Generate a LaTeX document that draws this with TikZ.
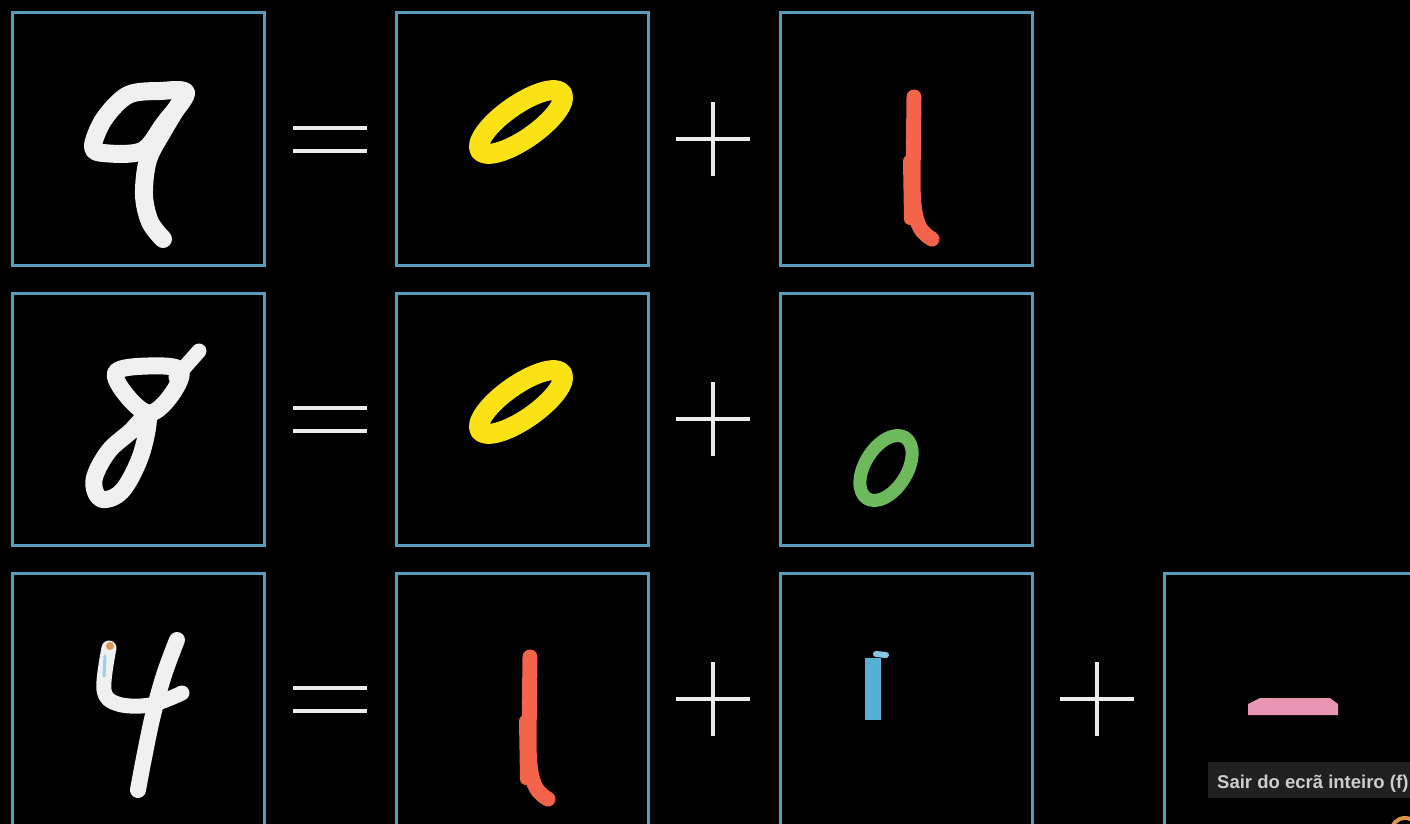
\documentclass[tikz,border=0pt]{standalone}
\usepackage{fontspec}
\newfontfamily\tipfont{Liberation Sans}
\definecolor{frameblue}{RGB}{88,156,186}
\definecolor{symwhite}{RGB}{235,235,235}
\definecolor{inkwhite}{RGB}{240,240,240}
\definecolor{inkyellow}{RGB}{250,226,20}
\definecolor{inkred}{RGB}{244,100,74}
\definecolor{inkgreen}{RGB}{108,186,92}
\definecolor{inkblue}{RGB}{85,175,215}
\definecolor{inkpink}{RGB}{232,150,180}
\definecolor{inkorange}{RGB}{225,150,80}
\definecolor{tipbg}{RGB}{32,32,32}
\definecolor{tipfg}{RGB}{205,205,205}
\begin{document}
\begin{tikzpicture}[x=1pt,y=-1pt,
  panel/.style={draw=frameblue, line width=3pt, minimum size=252pt, inner sep=0pt, fill=black},
  sym/.style={draw=symwhite, line width=4.8pt},
  ink/.style={line width=#1, line cap=round, line join=round},
  zeroyellow/.pic={
    \draw[ink=20pt, draw=inkyellow, rotate around={35:(-1,-17)}]
      (-1,-17) ellipse [x radius=50pt, y radius=17pt];
  },
  onered/.pic={
    \draw[ink=15pt, draw=inkred] (8,-42) -- (7,40) .. controls (7,78) and (11,92) .. (26,100);
    \draw[ink=12pt, draw=inkred] (3,22) -- (4,80);
  },
]
\fill[black] (0,0) rectangle (1410,824);
\useasboundingbox (0,0) rectangle (1410,824);
\clip (0,0) rectangle (1410,824);

% panels
\foreach \r/\y in {1/139,2/419,3/699}{
  \node[panel] (p\r1) at (138,\y) {};
  \node[panel] (p\r2) at (522,\y) {};
  \node[panel] (p\r3) at (906,\y) {};
}
\node[panel] (p34) at (1290,699) {};

% equals signs
\foreach \y in {139,419,699}{
  \draw[sym] (293,\y-11) -- (367,\y-11);
  \draw[sym] (293,\y+12) -- (367,\y+12);
}
% plus signs
\foreach \x/\y in {713/139,713/419,713/699,1097/699}{
  \draw[sym, line width=4.2pt] (\x-37,\y) -- (\x+37,\y) (\x,\y-37) -- (\x,\y+37);
}

% row 1: nine
\draw[ink=18pt, draw=inkwhite] plot[smooth cycle, tension=0.55]
  coordinates {(186,93) (160,91) (128,95) (104,119) (93,146) (103,153) (142,151) (164,124)};
\draw[ink=18pt, draw=inkwhite] plot[smooth, tension=0.55]
  coordinates {(186,93) (163,131) (148,160) (144,195) (150,222) (163,239)};
\pic at (522,139) {zeroyellow};
\pic at (906,139) {onered};

% row 2: eight
\draw[ink=17pt, draw=inkwhite] plot[smooth cycle, tension=0.6]
  coordinates {(116,372) (148,366) (180,370) (172,394) (150,413) (127,396)};
\draw[ink=17pt, draw=inkwhite] plot[smooth cycle, tension=0.6]
  coordinates {(148,416) (141,455) (122,491) (101,499) (94,480) (108,452) (130,432)};
\draw[ink=15pt, draw=inkwhite] (176,377) -- (199,351);
\pic at (522,419) {zeroyellow};
\draw[ink=13pt, draw=inkgreen, rotate around={58:(886,468)}]
  (886,468) ellipse [x radius=36pt, y radius=21pt];

% row 3: four
\draw[ink=15pt, draw=inkwhite] plot[smooth, tension=0.6]
  coordinates {(109,648) (104,690) (118,704) (150,705) (182,693)};
\draw[ink=16pt, draw=inkwhite] plot[smooth, tension=0.6]
  coordinates {(177,640) (164,675) (153,715) (144,758) (138,790)};
\fill[inkorange] (110,646) circle [radius=4pt];
\draw[ink=3pt, draw=inkblue!60!white] (105,656) -- (104,676);
\pic at (522,699) {onered};
\draw[line width=16pt, draw=inkblue] (873,658) -- (873,720);
\draw[ink=6pt, draw=inkblue!70!white] (876,654) -- (886,655);
\fill[inkpink] (1260,698) -- (1330,698) -- (1338,704) -- (1338,715)
  -- (1248,715) -- (1248,704) -- cycle;

% fullscreen tooltip
\fill[tipbg] (1208,762) rectangle (1420,798);
\node[anchor=base west, inner sep=0pt, text=tipfg,
  font=\tipfont\bfseries\fontsize{18.5}{20}\selectfont] (tip) at (1217,788)
  {Sair do ecrã inteiro (f)};
\draw[draw=inkorange, line width=4pt] (1405,832) circle [radius=14pt];
\end{tikzpicture}
\end{document}
